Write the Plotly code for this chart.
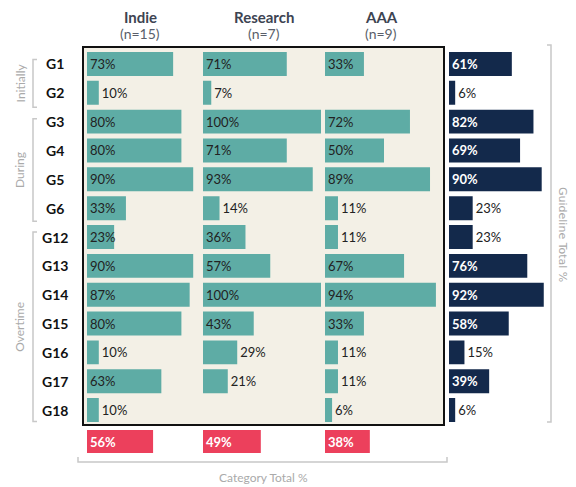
import plotly.graph_objects as go

# ---------------- data ----------------
guidelines = ["G1", "G2", "G3", "G4", "G5", "G6", "G12", "G13", "G14", "G15", "G16", "G17", "G18"]
indie = [73, 10, 80, 80, 90, 33, 23, 90, 87, 80, 10, 63, 10]
research = [71, 7, 100, 71, 93, 14, 36, 57, 100, 43, 29, 21, None]
aaa = [33, None, 72, 50, 89, 11, 11, 67, 94, 33, 11, 11, 6]
guideline_total = [61, 6, 82, 69, 90, 23, 23, 76, 92, 58, 15, 39, 6]
categories = ["Indie", "Research", "AAA"]
category_n = [15, 7, 9]
category_total = [56, 49, 38]
groups = ["Initially", "During", "Overtime"]
group_members = [["G1", "G2"], ["G3", "G4", "G5", "G6"],
                 ["G12", "G13", "G14", "G15", "G16", "G17", "G18"]]

# ---------------- layout helpers ----------------
OFF = 8  # default page body margin
W, H = 576 - OFF, 487 - OFF
def px(x):
    return (x - OFF) / W
def py(y):
    return 1 - (y - OFF) / H

TEAL = "#5eaca5"
NAVY = "#13294b"
RED = "#ec405c"
BEIGE = "#f3f0e6"
GREY = "#aaaaaa"
FONT = "Lato, 'Source Sans Pro', sans-serif"

fig = go.Figure()

def label_pos(vals, cut):
    return ["inside" if (v is not None and v >= cut) else "outside" for v in vals]

def label_text(vals):
    return ["" if v is None else f"{v}%" for v in vals]

panel_axes = ["x", "x2", "x3"]
panel_vals = [indie, research, aaa]
panel_cut = [20, 30, 30]

for ax, vals, cut in zip(panel_axes, panel_vals, panel_cut):
    pos = label_pos(vals, cut)
    fig.add_trace(go.Bar(
        y=guidelines, x=vals, orientation="h",
        xaxis=ax, yaxis="y", width=0.83,
        marker=dict(color=TEAL, line=dict(width=0)),
        text=label_text(vals), textposition=pos,
        insidetextanchor="start", textangle=0, constraintext="none",
        cliponaxis=False,
        textfont=dict(family=FONT, size=13, color="#222222"),
        hoverinfo="skip", showlegend=False,
    ))

# guideline totals
gpos = label_pos(guideline_total, 30)
fig.add_trace(go.Bar(
    y=guidelines, x=guideline_total, orientation="h",
    xaxis="x4", yaxis="y", width=0.83,
    marker=dict(color=NAVY, line=dict(width=0)),
    text=label_text(guideline_total), textposition=gpos,
    insidetextanchor="start", textangle=0, constraintext="none",
    cliponaxis=False,
    insidetextfont=dict(family=FONT, size=13, color="white", weight="bold"),
    outsidetextfont=dict(family=FONT, size=13, color="#222222"),
    hoverinfo="skip", showlegend=False,
))

# category totals
for ax, v in zip(panel_axes, category_total):
    fig.add_trace(go.Bar(
        y=["Total"], x=[v], orientation="h",
        xaxis=ax, yaxis="y2", width=0.92,
        marker=dict(color=RED, line=dict(width=0)),
        text=[f"{v}%"], textposition="inside",
        insidetextanchor="start", textangle=0, constraintext="none",
        textfont=dict(family=FONT, size=13, color="white", weight="bold"),
        hoverinfo="skip", showlegend=False,
    ))

ydom = [py(424.5), py(49.5)]
hidden = dict(visible=False, fixedrange=True)
fig.update_layout(
    width=W, height=H,
    margin=dict(l=0, r=0, t=0, b=0),
    paper_bgcolor="white", plot_bgcolor="rgba(0,0,0,0)",
    font=dict(family=FONT),
    xaxis=dict(domain=[px(87), px(205)], range=[0, 100], anchor="y", **hidden),
    xaxis2=dict(domain=[px(203), px(321)], range=[0, 100], anchor="y", **hidden),
    xaxis3=dict(domain=[px(325), px(443)], range=[0, 100], anchor="y", **hidden),
    xaxis4=dict(domain=[px(449), px(552)], range=[0, 100], anchor="y", **hidden),
    yaxis=dict(domain=ydom, type="category", categoryorder="array",
               categoryarray=guidelines, range=[len(guidelines) - 0.5, -0.5],
               anchor="x", **hidden),
    yaxis2=dict(domain=[py(454), py(429)], type="category", range=[-0.5, 0.5],
                anchor="x", **hidden),
)

shapes = []
# beige box
shapes.append(dict(type="rect", xref="paper", yref="paper",
                   x0=px(83), x1=px(444), y0=py(425), y1=py(47),
                   fillcolor=BEIGE, line=dict(color="#111111", width=2), layer="below"))

annotations = []
def note(x, y, text, font, angle=0, **kw):
    annotations.append(dict(x=x, y=y, xref=kw.pop("xref", "paper"), yref=kw.pop("yref", "paper"),
                            text=text, textangle=angle, showarrow=False,
                            xanchor="center", yanchor="middle", font=font, **kw))

# guideline labels
for g in guidelines:
    note(px(55), g, f"<b>{g}</b>", dict(family=FONT, size=14, color="#111111"), yref="y")

# group brackets
idx = {g: i for i, g in enumerate(guidelines)}
row_px = (424.5 - 49.5) / len(guidelines)
def row_y(r):
    return 49.5 + (r + 0.5) * row_px
bracket_pad = [(-0.15, 0.5), (-0.1, 0.45), (-0.17, 0.4)]
for name, mem, (a, b) in zip(groups, group_members, bracket_pad):
    top = row_y(idx[mem[0]] + a)
    bot = row_y(idx[mem[-1]] + b)
    path = (f"M {px(37)},{py(top)} L {px(33)},{py(top)} L {px(33)},{py(bot)} "
            f"L {px(37)},{py(bot)}")
    shapes.append(dict(type="path", xref="paper", yref="paper", path=path,
                       line=dict(color="#c8c8c8", width=1.5)))
    note(px(20), py((top + bot) / 2), name, dict(family=FONT, size=12, color=GREY), angle=-90)

# right bracket
path = f"M {px(547)},{py(45)} L {px(551)},{py(45)} L {px(551)},{py(422)} L {px(547)},{py(422)}"
shapes.append(dict(type="path", xref="paper", yref="paper", path=path,
                   line=dict(color="#c8c8c8", width=1.5)))
note(px(563), py(234), "Guideline Total %",
     dict(family="DejaVu Sans, sans-serif", size=11, color=GREY), angle=90)

# bottom bracket
path = f"M {px(78)},{py(457)} L {px(78)},{py(462)} L {px(447)},{py(462)} L {px(447)},{py(457)}"
shapes.append(dict(type="path", xref="paper", yref="paper", path=path,
                   line=dict(color="#c8c8c8", width=1.5)))
note(px(263), py(477), "Category Total %", dict(family=FONT, size=12, color=GREY))

# headers
header_x = [140, 264, 381]
for cname, n, hx in zip(categories, category_n, header_x):
    note(px(hx), py(17.5), f"<b>{cname}</b>", dict(family=FONT, size=15, color="#3d4452"),
         borderpad=0)
    note(px(hx), py(33), f"(n={n})", dict(family=FONT, size=14, color="#5a5f6a"))

fig.update_layout(shapes=shapes, annotations=annotations)
fig.write_html("out.html")
